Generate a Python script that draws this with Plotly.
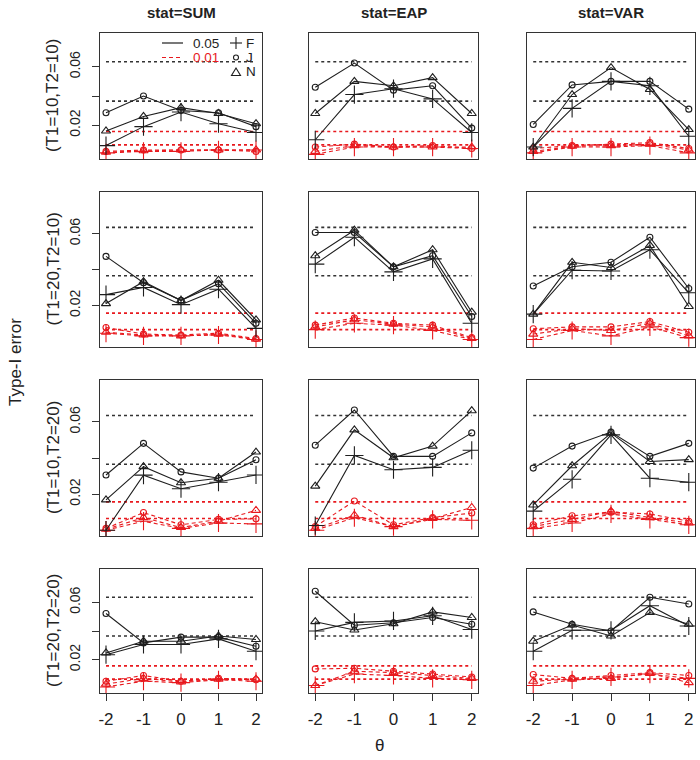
import plotly.graph_objects as go

# ---------------- data ----------------
theta = [-2, -1, 0, 1, 2]
stat_titles = ["stat=SUM", "stat=EAP", "stat=VAR"]
design_labels = ["(T1=10,T2=10)", "(T1=20,T2=10)", "(T1=10,T2=20)", "(T1=20,T2=20)"]
methods = ["F", "J", "N"]
alphas = ["0.05", "0.01"]
y_tick_vals = [0.02, 0.04, 0.06]
y_tick_text = ["0.02", "", "0.06"]
ref_005 = [0.0635, 0.0365]
ref_001 = [0.0157, 0.0065]

# T1=10, T2=10
sum_1010_05 = {"F": [0.006, 0.019, 0.029, 0.021, 0.015], "J": [0.0285, 0.040, 0.030, 0.0285, 0.019], "N": [0.016, 0.026, 0.032, 0.028, 0.021]}
sum_1010_01 = {"F": [0.001, 0.002, 0.002, 0.003, 0.003], "J": [0.002, 0.003, 0.003, 0.003, 0.002], "N": [0.0015, 0.0025, 0.003, 0.003, 0.003]}
eap_1010_05 = {"F": [0.010, 0.041, 0.045, 0.038, 0.015], "J": [0.046, 0.0626, 0.044, 0.047, 0.018], "N": [0.028, 0.050, 0.047, 0.0526, 0.028]}
eap_1010_01 = {"F": [0.0, 0.005, 0.005, 0.005, 0.004], "J": [0.005, 0.007, 0.005, 0.006, 0.004], "N": [0.002, 0.006, 0.005, 0.005, 0.005]}
var_1010_05 = {"F": [0.005, 0.0315, 0.050, 0.047, 0.0124], "J": [0.0205, 0.0476, 0.050, 0.050, 0.031], "N": [0.005, 0.041, 0.0595, 0.0445, 0.017]}
var_1010_01 = {"F": [0.001, 0.005, 0.005, 0.006, 0.001], "J": [0.004, 0.006, 0.007, 0.008, 0.004], "N": [0.002, 0.0055, 0.006, 0.007, 0.003]}

# T1=20, T2=10
sum_2010_05 = {"F": [0.026, 0.030, 0.0204, 0.029, 0.0072], "J": [0.0473, 0.0326, 0.0228, 0.0321, 0.010], "N": [0.021, 0.0332, 0.0227, 0.034, 0.0119]}
sum_2010_01 = {"F": [0.0045, 0.003, 0.003, 0.0035, 0.001], "J": [0.0077, 0.004, 0.0035, 0.0045, 0.0015], "N": [0.005, 0.0035, 0.003, 0.004, 0.0012]}
eap_2010_05 = {"F": [0.043, 0.058, 0.0387, 0.0459, 0.010], "J": [0.0606, 0.0606, 0.0415, 0.0477, 0.0138], "N": [0.0477, 0.0619, 0.0415, 0.051, 0.0162]}
eap_2010_01 = {"F": [0.0065, 0.010, 0.009, 0.006, 0.001], "J": [0.009, 0.013, 0.010, 0.009, 0.002], "N": [0.008, 0.012, 0.0095, 0.008, 0.0015]}
var_2010_05 = {"F": [0.0151, 0.0396, 0.0392, 0.051, 0.027], "J": [0.0308, 0.0415, 0.044, 0.058, 0.0294], "N": [0.0151, 0.044, 0.0411, 0.0534, 0.0194]}
var_2010_01 = {"F": [0.001, 0.006, 0.003, 0.008, 0.002], "J": [0.007, 0.008, 0.008, 0.011, 0.005], "N": [0.004, 0.007, 0.006, 0.010, 0.003]}

# T1=10, T2=20
sum_1020_05 = {"F": [0.0, 0.0305, 0.023, 0.0266, 0.0306], "J": [0.0306, 0.0481, 0.0323, 0.0288, 0.039], "N": [0.0168, 0.0352, 0.0263, 0.0288, 0.0433]}
sum_1020_01 = {"F": [0.0, 0.005, 0.001, 0.004, 0.0035], "J": [0.001, 0.0098, 0.003, 0.006, 0.0063], "N": [0.0005, 0.007, 0.0015, 0.005, 0.011]}
eap_1020_05 = {"F": [0.0026, 0.0414, 0.0335, 0.0348, 0.0443], "J": [0.0471, 0.0666, 0.0409, 0.0409, 0.0539], "N": [0.0244, 0.0556, 0.0401, 0.0466, 0.0662]}
eap_1020_01 = {"F": [0.0, 0.0069, 0.002, 0.006, 0.0055], "J": [0.002, 0.0162, 0.003, 0.007, 0.0095], "N": [0.001, 0.0083, 0.002, 0.0065, 0.0126]}
var_1020_05 = {"F": [0.0106, 0.0282, 0.0528, 0.0288, 0.0266], "J": [0.0344, 0.0466, 0.0544, 0.0409, 0.0481], "N": [0.014, 0.0357, 0.0538, 0.0381, 0.0391]}
var_1020_01 = {"F": [0.001, 0.004, 0.009, 0.006, 0.003], "J": [0.003, 0.008, 0.010, 0.009, 0.005], "N": [0.002, 0.006, 0.0105, 0.007, 0.004]}

# T1=20, T2=20
sum_2020_05 = {"F": [0.0235, 0.0306, 0.0306, 0.0345, 0.0259], "J": [0.0522, 0.0317, 0.0357, 0.0357, 0.0294], "N": [0.0247, 0.0329, 0.0329, 0.0365, 0.0341]}
sum_2020_01 = {"F": [0.001, 0.005, 0.004, 0.006, 0.005], "J": [0.005, 0.009, 0.005, 0.007, 0.006], "N": [0.003, 0.007, 0.0045, 0.0065, 0.0065]}
eap_2020_05 = {"F": [0.040, 0.046, 0.047, 0.0506, 0.041], "J": [0.0677, 0.044, 0.0458, 0.0494, 0.0447], "N": [0.0465, 0.0407, 0.0451, 0.0533, 0.0494]}
eap_2020_01 = {"F": [0.002, 0.010, 0.009, 0.007, 0.006], "J": [0.0136, 0.014, 0.012, 0.010, 0.008], "N": [0.002, 0.012, 0.011, 0.009, 0.007]}
var_2020_05 = {"F": [0.0259, 0.0405, 0.0405, 0.0576, 0.0435], "J": [0.0533, 0.0447, 0.040, 0.0635, 0.0588], "N": [0.0329, 0.0442, 0.0365, 0.0529, 0.0447]}
var_2020_01 = {"F": [0.002, 0.006, 0.008, 0.010, 0.007], "J": [0.0097, 0.007, 0.009, 0.011, 0.009], "N": [0.005, 0.0065, 0.007, 0.0105, 0.004]}

panels = [
    [(sum_1010_05, sum_1010_01), (eap_1010_05, eap_1010_01), (var_1010_05, var_1010_01)],
    [(sum_2010_05, sum_2010_01), (eap_2010_05, eap_2010_01), (var_2010_05, var_2010_01)],
    [(sum_1020_05, sum_1020_01), (eap_1020_05, eap_1020_01), (var_1020_05, var_1020_01)],
    [(sum_2020_05, sum_2020_01), (eap_2020_05, eap_2020_01), (var_2020_05, var_2020_01)],
]

# ---------------- style / geometry ----------------
W, H = 700, 760
COL_PX = [(100, 262), (309, 478), (527, 695)]
ROW_PX = [(33, 159), (192, 347), (380, 536), (569, 693)]
BLACK = "#1e1e1e"
RED = "#e8191e"
FONT = "Liberation Sans, Arial, sans-serif"
SYMBOL = {"F": "cross-thin-open", "J": "circle-open", "N": "triangle-up-open"}
MSIZE = {"F": 13, "J": 6, "N": 8}
STYLE = {"0.05": (BLACK, "solid"), "0.01": (RED, "4px,3px")}


def px_x(p):
    return p / W


def px_y(p):
    return 1 - p / H


fig = go.Figure()
layout = dict(
    width=W, height=H, margin=dict(l=0, r=0, t=0, b=0, autoexpand=False),
    paper_bgcolor="white", plot_bgcolor="white", showlegend=False,
    font=dict(family=FONT, color="#222"),
)
shapes = []
annotations = []

for r in range(4):
    for c in range(3):
        i = r * 3 + c + 1
        xa = "x" if i == 1 else f"x{i}"
        ya = "y" if i == 1 else f"y{i}"
        x0p, x1p = COL_PX[c]
        y0p, y1p = ROW_PX[r]
        layout[f"xaxis{i}"] = dict(
            domain=[px_x(x0p), px_x(x1p)], range=[-2.16, 2.16], anchor=ya,
            automargin=False,
            showgrid=False, zeroline=False, showline=True, mirror=True,
            linecolor="#333", linewidth=1.4,
            tickvals=theta, ticktext=[str(t) for t in theta],
            ticks="outside" if r == 3 else "", ticklen=7, tickcolor="#333", tickwidth=1.3,
            showticklabels=(r == 3), tickfont=dict(size=17, color="#222"),
            ticklabelstandoff=3,
        )
        layout[f"yaxis{i}"] = dict(
            domain=[px_y(y1p), px_y(y0p)], range=[-0.0032, 0.0832], anchor=xa,
            automargin=False,
            showgrid=False, zeroline=False, showline=True, mirror=True,
            linecolor="#333", linewidth=1.4,
            tickvals=y_tick_vals, ticktext=y_tick_text,
            ticks="outside" if c == 0 else "", ticklen=7, tickcolor="#333", tickwidth=1.3,
            showticklabels=(c == 0), tickangle=-90, tickfont=dict(size=14, color="#222"),
            ticklabelstandoff=6,
        )
        # reference lines
        for lv in ref_005:
            shapes.append(dict(type="line", xref=xa, yref=ya, x0=-2, x1=2, y0=lv, y1=lv,
                               line=dict(color="#333", width=1.6, dash="dot"), layer="below"))
        for lv in ref_001:
            shapes.append(dict(type="line", xref=xa, yref=ya, x0=-2, x1=2, y0=lv, y1=lv,
                               line=dict(color=RED, width=1.6, dash="dot"), layer="below"))
        d05, d01 = panels[r][c]
        for alpha, data in (("0.01", d01), ("0.05", d05)):
            col, dash = STYLE[alpha]
            for m in methods:
                fig.add_trace(go.Scatter(
                    x=theta, y=data[m], xaxis=xa, yaxis=ya, mode="lines+markers",
                    line=dict(color=col, width=1.1, dash=dash),
                    marker=dict(symbol=SYMBOL[m], size=MSIZE[m], color=col,
                                line=dict(color=col, width=1.1)),
                    name=f"{m} {alpha}", hoverinfo="skip",
                ))

# column titles
for c, t in enumerate(stat_titles):
    cx = (COL_PX[c][0] + COL_PX[c][1]) / 2
    annotations.append(dict(text=f"<b>{t}</b>", x=px_x(cx), y=px_y(12), xref="paper", yref="paper",
                            showarrow=False, font=dict(size=15, color="#222"),
                            xanchor="center", yanchor="middle"))
# row labels
for r, t in enumerate(design_labels):
    cy = (ROW_PX[r][0] + ROW_PX[r][1]) / 2
    annotations.append(dict(text=t, x=px_x(53), y=px_y(cy), xref="paper", yref="paper",
                            showarrow=False, textangle=-90, font=dict(size=17, color="#222"),
                            xanchor="center", yanchor="middle"))
annotations.append(dict(text="Type-I error", x=px_x(15), y=px_y(362), xref="paper", yref="paper",
                        showarrow=False, textangle=-90, font=dict(size=17, color="#222"),
                        xanchor="center", yanchor="middle"))
annotations.append(dict(text="θ", x=px_x(380), y=px_y(745), xref="paper", yref="paper",
                        showarrow=False, font=dict(size=17, color="#222"),
                        xanchor="center", yanchor="middle"))

# legend (top-left panel)
leg_rows = [43, 57.5, 72]
for k, alpha in enumerate(alphas):
    col, dash = STYLE[alpha]
    yy = px_y(leg_rows[k])
    shapes.append(dict(type="line", xref="paper", yref="paper", x0=px_x(162), x1=px_x(183),
                       y0=yy, y1=yy, line=dict(color=col, width=1.2, dash=dash)))
    annotations.append(dict(text=alpha, x=px_x(192), y=yy, xref="paper", yref="paper",
                            showarrow=False, xanchor="left", yanchor="middle", borderpad=0,
                            font=dict(size=13.5, color=col)))
gx = 236
# plus glyph
shapes.append(dict(type="line", xref="paper", yref="paper", x0=px_x(gx - 6), x1=px_x(gx + 6),
                   y0=px_y(43), y1=px_y(43), line=dict(color=BLACK, width=1.1)))
shapes.append(dict(type="line", xref="paper", yref="paper", x0=px_x(gx), x1=px_x(gx),
                   y0=px_y(37), y1=px_y(49), line=dict(color=BLACK, width=1.1)))
# circle glyph
shapes.append(dict(type="circle", xref="paper", yref="paper", x0=px_x(gx - 2.5), x1=px_x(gx + 2.5),
                   y0=px_y(60), y1=px_y(55), line=dict(color=BLACK, width=1.1)))
# triangle glyph
shapes.append(dict(type="path", xref="paper", yref="paper",
                   path=f"M {px_x(gx-4.5)} {px_y(75.5)} L {px_x(gx+4.5)} {px_y(75.5)} L {px_x(gx)} {px_y(68)} Z",
                   line=dict(color=BLACK, width=1.1)))
for k, m in enumerate(methods):
    annotations.append(dict(text=m, x=px_x(245), y=px_y(leg_rows[k]), xref="paper", yref="paper",
                            showarrow=False, xanchor="left", yanchor="middle", borderpad=0,
                            font=dict(size=13.5, color="#222")))

layout["shapes"] = shapes
layout["annotations"] = annotations
fig.update_layout(**layout)
fig.write_html(
    "out.html",
    config={"displayModeBar": False},
    post_script="document.body.style.margin='0';document.body.style.overflow='hidden';",
)
